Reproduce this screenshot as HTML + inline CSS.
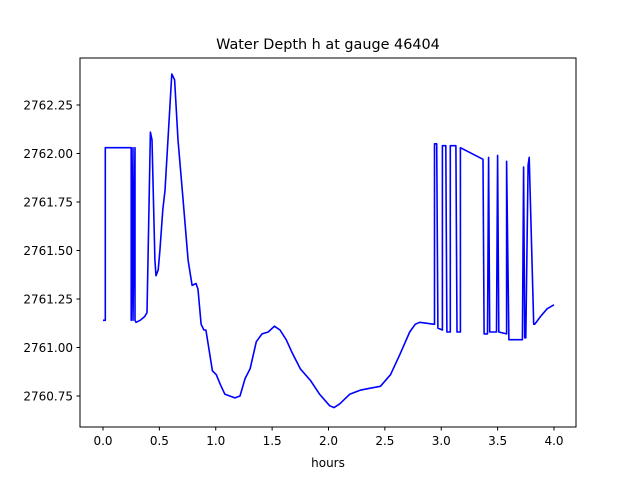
<!DOCTYPE html>
<html><head><meta charset="utf-8"><style>
body{margin:0;background:#fff;}
svg text{font-family:"DejaVu Sans","Liberation Sans",sans-serif;fill:#000;}
</style></head><body>
<svg id="chart" width="640" height="480" xmlns="http://www.w3.org/2000/svg">
<rect width="640" height="480" fill="#fff"/>
<text x="328" y="49" text-anchor="middle" font-size="14.4">Water Depth h at gauge 46404</text>
<text x="328" y="467" text-anchor="middle" font-size="12">hours</text>
<g id="marks"></g>
<rect x="80" y="58" width="496" height="369" fill="none" stroke="#000" stroke-width="1"/>
<g id="axes"></g>
</svg>
<script>
const xTicks=[0,0.5,1,1.5,2,2.5,3,3.5,4];
const xTickLabels=["0.0","0.5","1.0","1.5","2.0","2.5","3.0","3.5","4.0"];
const yTicks=[2760.75,2761,2761.25,2761.5,2761.75,2762,2762.25];
const yTickLabels=["2760.75","2761.00","2761.25","2761.50","2761.75","2762.00","2762.25"];
const hours=[0,0.02,0.02,0.25,0.25,0.266,0.266,0.284,0.284,0.293,0.33,0.37,0.39,0.42,0.435,0.46,0.47,0.49,0.505,0.53,0.55,0.61,0.635,0.665,0.71,0.755,0.79,0.825,0.843,0.87,0.895,0.913,0.94,0.97,1.005,1.04,1.08,1.125,1.17,1.215,1.26,1.305,1.36,1.41,1.465,1.52,1.57,1.625,1.68,1.75,1.84,1.92,2.01,2.05,2.1,2.19,2.28,2.37,2.46,2.55,2.63,2.72,2.77,2.81,2.93,2.94,2.94,2.96,2.97,3.01,3.01,3.04,3.05,3.08,3.08,3.13,3.14,3.17,3.17,3.37,3.38,3.41,3.42,3.43,3.49,3.5,3.51,3.58,3.58,3.6,3.7,3.72,3.73,3.74,3.75,3.77,3.78,3.82,3.83,3.88,3.94,4.0];
const depth=[2761.14,2761.14,2762.03,2762.03,2761.14,2762.03,2761.14,2762.03,2761.14,2761.13,2761.14,2761.16,2761.18,2762.11,2762.07,2761.45,2761.37,2761.4,2761.5,2761.71,2761.81,2762.41,2762.38,2762.07,2761.76,2761.45,2761.32,2761.33,2761.3,2761.12,2761.09,2761.09,2760.99,2760.88,2760.86,2760.81,2760.76,2760.75,2760.74,2760.75,2760.84,2760.89,2761.03,2761.07,2761.08,2761.11,2761.09,2761.04,2760.97,2760.89,2760.83,2760.76,2760.7,2760.69,2760.71,2760.76,2760.78,2760.79,2760.8,2760.86,2760.96,2761.08,2761.12,2761.13,2761.12,2761.12,2762.05,2762.05,2761.1,2761.09,2762.04,2762.04,2761.08,2761.08,2762.04,2762.04,2761.08,2761.08,2762.03,2761.97,2761.07,2761.07,2761.98,2761.08,2761.08,2761.99,2761.08,2761.07,2761.96,2761.04,2761.04,2761.04,2761.93,2761.05,2761.05,2761.94,2761.98,2761.12,2761.12,2761.16,2761.2,2761.22];
const X=v=>103+(v-0)*112.75, Y=v=>105+(2762.25-v)*194;
const NS="http://www.w3.org/2000/svg";
const marks=document.getElementById('marks'), axes=document.getElementById('axes');
const line=document.createElementNS(NS,'polyline');


line.setAttribute('points',hours.map((h,i)=>X(h).toFixed(1)+','+Y(depth[i]).toFixed(1)).join(' '));
line.setAttribute('fill','none');line.setAttribute('stroke','#0000ff');line.setAttribute('stroke-width','1.6');line.setAttribute('stroke-linejoin','round');
marks.appendChild(line);
xTicks.forEach((t,i)=>{
 const l=document.createElementNS(NS,'line');
 
 
 l.setAttribute('x1',X(t));l.setAttribute('x2',X(t));l.setAttribute('y1',427);l.setAttribute('y2',430.5);l.setAttribute('stroke','#000');
 axes.appendChild(l);
 const tx=document.createElementNS(NS,'text');
 
 
 tx.setAttribute('x',X(t));tx.setAttribute('y',445);tx.setAttribute('text-anchor','middle');tx.setAttribute('font-size','12');
 tx.textContent=xTickLabels[i];axes.appendChild(tx);
});
yTicks.forEach((t,i)=>{
 const l=document.createElementNS(NS,'line');
 
 
 l.setAttribute('x1',76.5);l.setAttribute('x2',80);l.setAttribute('y1',Y(t));l.setAttribute('y2',Y(t));l.setAttribute('stroke','#000');
 axes.appendChild(l);
 const tx=document.createElementNS(NS,'text');
 
 
 tx.setAttribute('x',73);tx.setAttribute('y',Y(t)+4.5);tx.setAttribute('text-anchor','end');tx.setAttribute('font-size','12');
 tx.textContent=yTickLabels[i];axes.appendChild(tx);
});
</script>
</body></html>
